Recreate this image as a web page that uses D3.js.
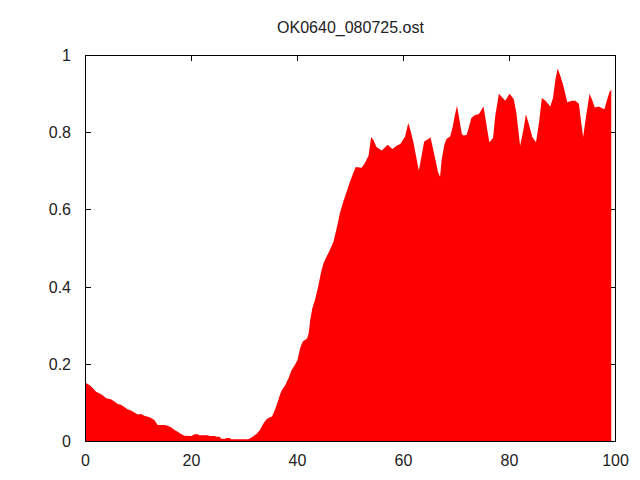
<!DOCTYPE html>
<html><head><meta charset="utf-8">
<script src="https://cdn.jsdelivr.net/npm/d3@7"></script>
<style>body{margin:0;background:#fff}svg{display:block}text{font-family:"Liberation Sans",Arial,sans-serif;font-size:16px;fill:#222}</style>
</head><body>
<script>
const title = "OK0640_080725.ost";
const xTicks = [0, 20, 40, 60, 80, 100];
const yTicks = [0, 0.2, 0.4, 0.6, 0.8, 1];
const xs = [0,0.8,1.4,2.0,2.6,3.3,3.9,4.9,5.5,6.1,6.7,7.4,8.0,8.6,9.2,9.9,10.5,11.1,12.1,13.0,13.6,14.9,15.5,16.2,16.8,17.4,18.1,18.7,20.0,20.6,21.2,21.5,23.1,23.4,24.4,24.7,25.3,25.6,26.3,26.6,27.2,27.5,30.7,31.0,31.6,32.3,32.9,33.6,34.2,34.8,35.2,35.8,36.4,36.7,37.1,37.6,38.3,38.9,39.5,40.0,40.5,41.0,41.8,42.1,42.4,42.8,43.3,43.9,44.4,44.9,45.5,46.1,46.8,47.4,48.0,48.6,49.3,49.9,50.5,51.0,52.1,52.7,53.4,53.9,54.3,54.9,55.9,56.2,57.0,57.9,58.7,59.4,60.3,60.9,61.3,61.9,62.5,62.9,63.5,63.9,64.7,65.1,65.9,66.5,66.9,67.2,67.7,68.1,68.8,69.3,69.7,70.1,70.5,71.0,71.3,71.9,72.3,72.8,73.5,74.2,75.1,75.6,76.2,76.9,77.3,78.0,78.6,79.2,80.0,80.8,81.3,82.0,82.6,83.1,83.6,84.3,85.0,85.6,86.1,86.8,87.7,88.2,88.7,89.1,89.6,90.2,90.9,91.8,92.4,93.1,93.5,93.9,94.3,95.1,95.6,96.1,96.8,97.4,97.9,98.4,98.9,99.2];
const ys = [0.152,0.146,0.138,0.129,0.125,0.119,0.112,0.109,0.103,0.097,0.095,0.089,0.083,0.080,0.075,0.070,0.071,0.067,0.063,0.056,0.043,0.043,0.041,0.036,0.030,0.025,0.019,0.015,0.014,0.019,0.019,0.016,0.016,0.014,0.014,0.012,0.012,0.007,0.007,0.009,0.009,0.006,0.006,0.008,0.013,0.020,0.030,0.047,0.058,0.063,0.065,0.084,0.108,0.122,0.135,0.144,0.164,0.185,0.198,0.211,0.242,0.259,0.267,0.280,0.315,0.345,0.367,0.401,0.436,0.462,0.479,0.496,0.518,0.553,0.591,0.620,0.648,0.673,0.695,0.711,0.709,0.721,0.740,0.789,0.782,0.763,0.754,0.758,0.769,0.758,0.766,0.771,0.790,0.825,0.807,0.773,0.730,0.702,0.747,0.777,0.784,0.788,0.738,0.699,0.686,0.730,0.769,0.784,0.790,0.816,0.846,0.870,0.838,0.797,0.793,0.794,0.812,0.838,0.846,0.848,0.868,0.825,0.775,0.786,0.842,0.901,0.892,0.883,0.901,0.887,0.851,0.766,0.806,0.848,0.825,0.789,0.775,0.829,0.890,0.883,0.868,0.890,0.941,0.966,0.947,0.920,0.879,0.883,0.883,0.875,0.829,0.789,0.829,0.901,0.885,0.865,0.868,0.864,0.861,0.885,0.907,0.911];

const W = 640, H = 480;
const L = 85.5, R = 615.5, T = 55.5, B = 441.5;
const svg = d3.select("body").append("svg").attr("width", W).attr("height", H);
const x = d3.scaleLinear().domain([0, 100]).range([L, R]);
const y = d3.scaleLinear().domain([0, 1]).range([B, T]);
const tl = 5;

// ticks (inward, mirrored)
const g = svg.append("g").attr("stroke", "#000").attr("stroke-width", 1).attr("shape-rendering", "crispEdges");
xTicks.forEach(t => {
  g.append("line").attr("x1", x(t)).attr("x2", x(t)).attr("y1", B).attr("y2", B - tl);
  g.append("line").attr("x1", x(t)).attr("x2", x(t)).attr("y1", T).attr("y2", T + tl);
});
yTicks.forEach(t => {
  g.append("line").attr("x1", L).attr("x2", L + tl).attr("y1", y(t)).attr("y2", y(t));
  g.append("line").attr("x1", R).attr("x2", R - tl).attr("y1", y(t)).attr("y2", y(t));
});

// area
const data = xs.map((v, i) => [v, ys[i]]);
const area = d3.area().x(d => x(d[0])).y0(y(0)).y1(d => y(d[1]));
svg.append("path").datum(data).attr("d", area).attr("fill", "#ff0000").attr("stroke", "none");

// border
svg.append("rect").attr("x", L).attr("y", T).attr("width", R - L).attr("height", B - T)
  .attr("fill", "none").attr("stroke", "#000").attr("stroke-width", 1).attr("shape-rendering", "crispEdges");

// labels
xTicks.forEach(t => svg.append("text").attr("x", x(t)).attr("y", 465.5).attr("text-anchor", "middle").text(t));
yTicks.forEach(t => svg.append("text").attr("x", 71).attr("y", y(t) + 5.5).attr("text-anchor", "end").text(t));
svg.append("text").attr("x", (L + R) / 2).attr("y", 33).attr("text-anchor", "middle").text(title);
</script>
</body></html>
